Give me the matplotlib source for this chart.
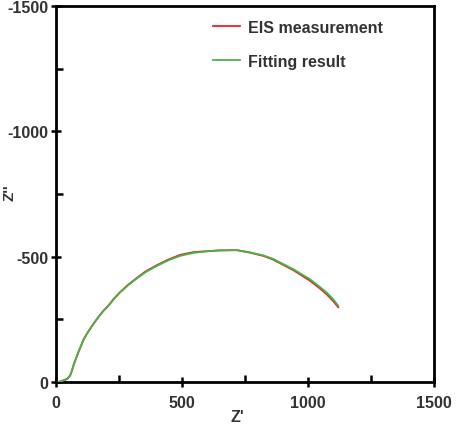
import matplotlib
matplotlib.use("Agg")
import matplotlib.pyplot as plt
from matplotlib.ticker import MultipleLocator

plt.rcParams['font.family'] = ['Liberation Sans', 'DejaVu Sans']
plt.rcParams['axes.unicode_minus'] = False

# Fitting result (Z', Z'')
fit_zr = [9, 25, 45, 56, 63, 69, 79, 89, 98, 108, 121, 135, 151, 168, 187, 208, 230, 254, 285, 318,
          355, 400, 445, 492, 545, 598, 650, 717, 770, 823, 860, 889, 942, 981, 1008, 1045, 1074, 1100, 1120]
fit_zi = [0, -4, -12, -25, -45, -65, -92, -118, -142, -165, -189, -211, -236, -258, -282, -304, -331, -357, -385, -411,
          -438, -463, -485, -503, -515, -521, -525, -526, -517, -505, -492, -477, -450, -426, -410, -381, -357, -330, -304]

# EIS measurement (Z', Z'')
eis_zr = [9, 25, 45, 56, 63, 69, 79, 89, 98, 108, 121, 135, 151, 168, 187, 208, 230, 254, 285, 318,
          355, 400, 445, 492, 545, 598, 650, 717, 770, 823, 860, 889, 942, 981, 1008, 1045, 1074, 1100, 1120]
eis_zi = [0, -5, -13, -26, -44, -66, -93, -120, -141, -167, -190, -212, -235, -259, -283, -305, -333, -358, -387, -413,
          -441, -466, -488, -507, -518, -522, -525, -526, -516, -503, -489, -474, -446, -421, -404, -375, -350, -323, -298]

fig = plt.figure(figsize=(4.58, 4.27), dpi=100)
ax = fig.add_axes([56/458, 1-383/427, 378/458, 376/427])

ax.plot(eis_zr, eis_zi, color='#e8202a', lw=1.3, label='EIS measurement', zorder=2)
ax.plot(fit_zr, fit_zi, color='#45b545', lw=1.3, label='Fitting result', zorder=3)

ax.set_xlim(0, 1500)
ax.set_ylim(0, -1500)
ax.xaxis.set_major_locator(MultipleLocator(500))
ax.xaxis.set_minor_locator(MultipleLocator(250))
ax.yaxis.set_major_locator(MultipleLocator(500))
ax.yaxis.set_minor_locator(MultipleLocator(250))

for s in ax.spines.values():
    s.set_linewidth(2.0)
    s.set_color('black')

ax.tick_params(which='major', direction='inout', length=7, width=1.8, labelsize=11.5,
               labelcolor='#333333', top=False, right=False, pad=2)
ax.tick_params(axis='x', which='major', pad=6)
ax.tick_params(which='minor', direction='in', length=5, width=1.8, top=False, right=False)
for lab in ax.get_xticklabels() + ax.get_yticklabels():
    lab.set_fontweight('bold')

ax.set_xlabel("Z'", fontsize=11.5, color='#333333', fontweight='bold')
ax.set_ylabel("Z''", fontsize=11, color='#333333', fontweight='bold')
ax.xaxis.set_label_coords(0.479, -0.072)
ax.yaxis.set_label_coords(-0.104, 0.505)

leg = ax.legend(loc='upper left', bbox_to_anchor=(0.415, 0.964), frameon=False,
                prop={'size': 11.5, 'weight': 'bold'},
                handlelength=1.7, handletextpad=0.5, labelspacing=1.2,
                borderaxespad=0, borderpad=0)
for t in leg.get_texts():
    t.set_color('#333333')

fig.savefig('out.png', dpi=100)
